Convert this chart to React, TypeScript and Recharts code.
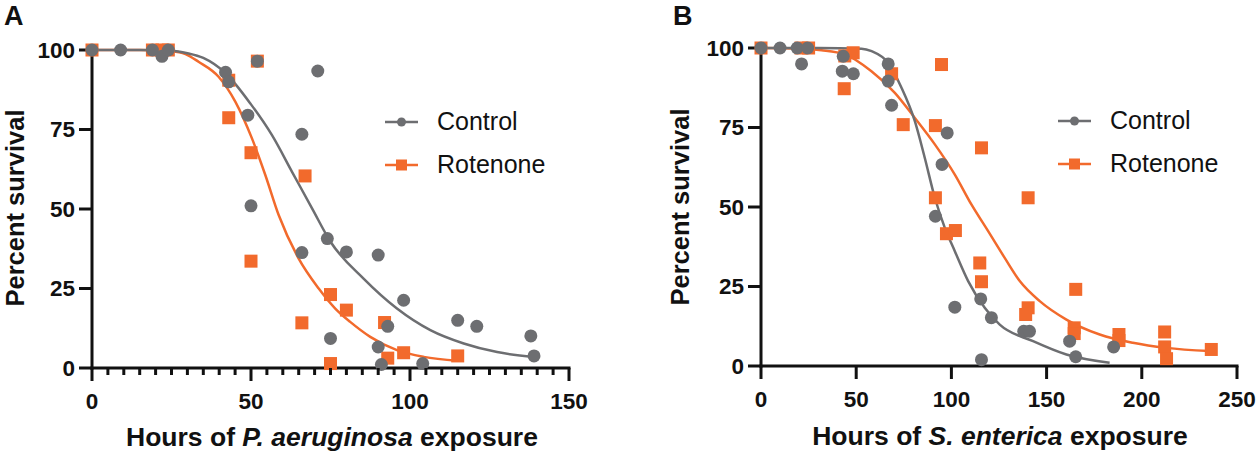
import { ComposedChart, Line, Scatter, XAxis, YAxis, Legend } from 'recharts';

const GREY = '#6d6e71';
const ORANGE = '#f26a2c';
const INK = '#111111';
const FONT = '"Liberation Sans", Arial, Helvetica, sans-serif';

const SERIES = ['Control', 'Rotenone'];
const SURVIVAL_TICKS = [0, 25, 50, 75, 100];

// Panel A - P. aeruginosa
const aHourTicks = [0, 5, 10, 15, 20, 25, 30, 35, 40, 45, 50, 55, 60, 65, 70, 75, 80, 85, 90, 95, 100, 105, 110, 115, 120, 125, 130, 135, 140, 145, 150];
const aControlHours = [0, 9, 19, 22, 24, 42, 43, 49, 52, 71, 50, 66, 66, 74, 75, 80, 90, 98, 93, 90, 91, 104, 115, 121, 138, 139];
const aControlSurvival = [100, 100, 100, 98, 100, 93, 90, 79.5, 96.5, 93.4, 51, 73.5, 36.3, 40.7, 9.3, 36.5, 35.5, 21.3, 13.1, 6.6, 1.1, 1.4, 15, 13.1, 10.1, 3.8];
const aRotenoneHours = [0, 19, 22, 24, 52, 43, 43, 50, 67, 50, 66, 75, 75, 80, 92, 93, 98, 115];
const aRotenoneSurvival = [100, 100, 100, 100, 96.5, 90.5, 78.7, 67.7, 60.4, 33.6, 14.2, 23.1, 1.4, 18.2, 14.3, 3.1, 4.8, 3.8];
const aControlFitHours = [0, 15, 25, 30, 35, 42, 50, 56.6, 62.9, 69.2, 75, 85.4, 95.9, 106.4, 116.9, 127.4, 139];
const aControlFitSurvival = [100, 100, 99.8, 99, 97.5, 92.7, 82.9, 73.2, 61.7, 50.2, 39.7, 28.1, 18.7, 11.9, 7.7, 5.0, 3.5];
const aRotenoneFitHours = [0, 15, 25, 29.4, 33.5, 39.8, 45.1, 50.3, 54.5, 58.7, 65, 71.3, 76.5, 81.2, 87.5, 95.9, 104.3, 115];
const aRotenoneFitSurvival = [100, 100, 99.6, 98.7, 96.3, 91.6, 83.7, 72.2, 60.7, 48.1, 34.4, 25, 18.7, 14.5, 9.8, 5.6, 3.5, 2.3];

// Panel B - S. enterica
const bHourTicks = [0, 50, 100, 150, 200, 250];
const bControlHours = [0, 10, 19, 24.5, 21.3, 43.2, 42.7, 48.5, 66.8, 66.8, 68.6, 97.8, 95.1, 91.6, 101.8, 115.4, 121, 115.8, 138, 141, 162.1, 165.3, 185.2];
const bControlSurvival = [100, 100, 100, 100, 95, 97.4, 92.7, 91.9, 95, 89.6, 82, 73.3, 63.4, 47.1, 18.5, 21.1, 15.2, 2, 10.9, 10.9, 7.8, 2.9, 6];
const bRotenoneHours = [0, 21, 25, 44, 48.4, 43.7, 68.6, 94.8, 74.7, 91.6, 115.8, 91.6, 97.4, 102.1, 114.9, 115.8, 140.3, 140.3, 139, 165.3, 164.5, 164.5, 188, 188, 212, 212, 213, 236.5];
const bRotenoneSurvival = [100, 100, 100, 97.5, 98.5, 87.2, 91.9, 94.8, 75.9, 75.6, 68.6, 52.9, 41.6, 42.6, 32.4, 26.5, 52.9, 18.3, 16.2, 24.1, 12, 10.2, 9.9, 8, 10.7, 6, 2.3, 5.2];
const bControlFitHours = [0, 30, 52.8, 58.1, 66.8, 73.8, 80.8, 86, 91.3, 96.5, 101.8, 108.8, 117.5, 125.4, 142.9, 160.4, 183.1];
const bControlFitSurvival = [100, 100, 99.8, 99, 95.3, 87.5, 77, 65.5, 52.9, 43.5, 36.1, 26.7, 18.3, 13, 7.8, 3.6, 1];
const bRotenoneFitHours = [0, 20, 31.8, 44, 58, 70.3, 80.8, 91.3, 101.8, 110.5, 119.3, 128, 135.9, 146.4, 160.4, 177.9, 195.3, 212.9, 235.6];
const bRotenoneFitSurvival = [100, 99.8, 99.3, 98, 92.7, 85.9, 78, 69.7, 60.2, 50.8, 42.4, 34, 26.7, 20.4, 14.6, 9.9, 7.3, 5.7, 4.7];

const zip = (xs: number[], ys: number[]) => xs.map((x, i) => ({ x, y: ys[i] }));

const dotShape = (props: any) => <circle cx={props.cx} cy={props.cy} r={6.5} fill={GREY} />;
const squareShape = (props: any) => (
  <rect x={props.cx - 6.5} y={props.cy - 6.5} width={13} height={13} fill={ORANGE} />
);

// x ticks: long tick + label on multiples of 50, short tick otherwise
const HourTick = (props: any) => {
  const { x, y, payload } = props;
  const major = payload.value % 50 === 0;
  return (
    <g>
      <line x1={x} x2={x} y1={y} y2={y + (major ? 13 : 7)} stroke={INK} strokeWidth={3} />
      {major && (
        <text x={x} y={y + 41} textAnchor="middle" fontSize={22.5} fontWeight={700} fill={INK} fontFamily={FONT}>
          {payload.value}
        </text>
      )}
    </g>
  );
};

function SeriesKey() {
  return (
    <svg width={240} height={90} style={{ display: 'block', overflow: 'visible' }}>
      <line x1={5} x2={38} y1={22} y2={22} stroke={GREY} strokeWidth={2.5} />
      <circle cx={21.5} cy={22} r={4.5} fill={GREY} />
      <text x={57} y={30} fontSize={25} fill={INK} fontFamily={FONT}>{SERIES[0]}</text>
      <line x1={5} x2={38} y1={65} y2={65} stroke={ORANGE} strokeWidth={2.5} />
      <rect x={16} y={59.5} width={11} height={11} fill={ORANGE} />
      <text x={57} y={73} fontSize={25} fill={INK} fontFamily={FONT}>{SERIES[1]}</text>
    </svg>
  );
}

interface PanelProps {
  width: number;
  top: number;
  right: number;
  axisWidth: number;
  axisHeight: number;
  hourMax: number;
  hourTicks: number[];
  control: { x: number; y: number }[];
  rotenone: { x: number; y: number }[];
  controlFit: { x: number; y: number }[];
  rotenoneFit: { x: number; y: number }[];
  keyLeft: number;
  keyTop: number;
}

function SurvivalPanel(p: PanelProps) {
  const axisLine = { stroke: INK, strokeWidth: 3, strokeLinecap: 'square' as const };
  return (
    <ComposedChart width={p.width} height={452} margin={{ top: p.top, right: p.right, bottom: 0, left: 0 }}>
      <XAxis
        type="number"
        dataKey="x"
        domain={[0, p.hourMax]}
        ticks={p.hourTicks}
        interval={0}
        height={p.axisHeight}
        stroke={INK}
        strokeWidth={3}
        axisLine={axisLine}
        tickLine={false}
        tickSize={0}
        tickMargin={0}
        tick={HourTick}
      />
      <YAxis
        type="number"
        dataKey="y"
        domain={[0, 100]}
        ticks={SURVIVAL_TICKS}
        interval={0}
        width={p.axisWidth}
        stroke={INK}
        strokeWidth={3}
        axisLine={axisLine}
        tickLine={{ stroke: INK, strokeWidth: 3 }}
        tickSize={13}
        tickMargin={4}
        tick={{ fill: INK, fontSize: 22.5, fontWeight: 700, fontFamily: FONT, strokeWidth: 0 }}
      />
      <Legend
        layout="vertical"
        align="center"
        verticalAlign="middle"
        content={() => <SeriesKey />}
        wrapperStyle={{ left: p.keyLeft, top: p.keyTop, width: 240, height: 90 }}
      />
      <Line data={p.rotenoneFit} dataKey="y" type="monotone" stroke={ORANGE} strokeWidth={2.5} dot={false} activeDot={false} isAnimationActive={false} />
      <Line data={p.controlFit} dataKey="y" type="monotone" stroke={GREY} strokeWidth={2.5} dot={false} activeDot={false} isAnimationActive={false} />
      <Scatter data={p.rotenone} dataKey="y" shape={squareShape} isAnimationActive={false} />
      <Scatter data={p.control} dataKey="y" shape={dotShape} isAnimationActive={false} />
    </ComposedChart>
  );
}

export default function App() {
  const title = { fontFamily: FONT, fontWeight: 700, fontSize: 26.5, fill: INK };
  return (
    <div style={{ position: 'relative', width: 1257, height: 452, background: '#fff' }}>
      <style>{'body{margin:0}'}</style>
      <div style={{ position: 'absolute', left: 0, top: 0 }}>
        <SurvivalPanel
          width={628}
          top={50}
          right={59}
          axisWidth={92}
          axisHeight={84}
          hourMax={150}
          hourTicks={aHourTicks}
          control={zip(aControlHours, aControlSurvival)}
          rotenone={zip(aRotenoneHours, aRotenoneSurvival)}
          controlFit={zip(aControlFitHours, aControlFitSurvival)}
          rotenoneFit={zip(aRotenoneFitHours, aRotenoneFitSurvival)}
          keyLeft={380}
          keyTop={100}
        />
      </div>
      <div style={{ position: 'absolute', left: 628, top: 0 }}>
        <SurvivalPanel
          width={629}
          top={48}
          right={20}
          axisWidth={133}
          axisHeight={86}
          hourMax={250}
          hourTicks={bHourTicks}
          control={zip(bControlHours, bControlSurvival)}
          rotenone={zip(bRotenoneHours, bRotenoneSurvival)}
          controlFit={zip(bControlFitHours, bControlFitSurvival)}
          rotenoneFit={zip(bRotenoneFitHours, bRotenoneFitSurvival)}
          keyLeft={425}
          keyTop={99}
        />
      </div>
      <svg width={1257} height={452} style={{ position: 'absolute', left: 0, top: 0, pointerEvents: 'none' }}>
        <text x={4} y={25} {...title} fontSize={27}>A</text>
        <text x={673} y={25} {...title} fontSize={27}>B</text>
        <text x={23.5} y={208} transform="rotate(-90 23.5 208)" textAnchor="middle" {...title} fontSize={25.5}>Percent survival</text>
        <text x={689} y={207} transform="rotate(-90 689 207)" textAnchor="middle" {...title} fontSize={25.5}>Percent survival</text>
        <text x={332} y={446} textAnchor="middle" {...title}>
          Hours of <tspan fontStyle="italic">P. aeruginosa</tspan> exposure
        </text>
        <text x={1000} y={445} textAnchor="middle" {...title}>
          Hours of <tspan fontStyle="italic">S. enterica</tspan> exposure
        </text>
      </svg>
    </div>
  );
}
